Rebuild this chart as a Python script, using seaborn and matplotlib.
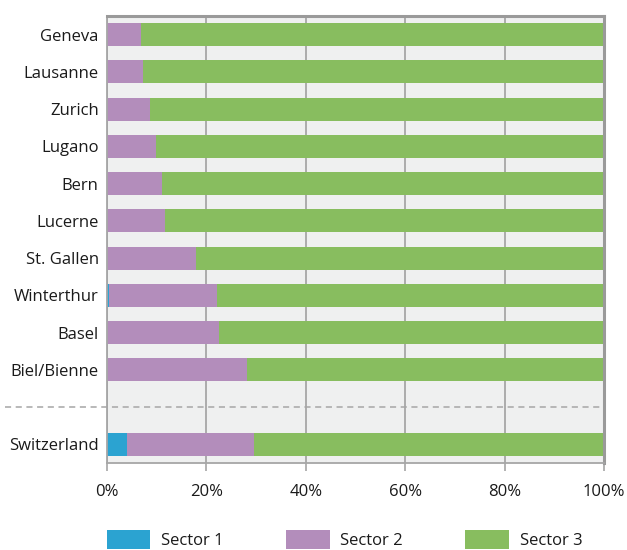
import matplotlib
matplotlib.use("Agg")
import matplotlib.pyplot as plt
import seaborn as sns
import pandas as pd
import numpy as np
from matplotlib.patches import Patch

cities = ["Geneva", "Lausanne", "Zurich", "Lugano", "Bern", "Lucerne",
          "St. Gallen", "Winterthur", "Basel", "Biel/Bienne", "", "Switzerland"]
sector1 = [0.0, 0.0, 0.0, 0.0, 0.0, 0.0, 0.0, 0.5, 0.0, 0.0, np.nan, 4.1]
sector2 = [6.8, 7.2, 8.6, 9.8, 11.0, 11.6, 18.0, 21.7, 22.5, 28.1, np.nan, 25.4]
sector3 = [93.2, 92.8, 91.4, 90.2, 89.0, 88.4, 82.0, 77.8, 77.5, 71.9, np.nan, 70.5]

colors = {"Sector 1": "#2ba3d1", "Sector 2": "#b38dbb", "Sector 3": "#88bd5f"}

sns.set_theme(style="white")
plt.rcParams["font.family"] = ["Open Sans", "DejaVu Sans"]

df = pd.DataFrame({"city": cities, "Sector 1": sector1,
                   "Sector 2": sector2, "Sector 3": sector3})
df["c1"] = df["Sector 1"]
df["c2"] = df["Sector 1"] + df["Sector 2"]
df["c3"] = df["c2"] + df["Sector 3"]
df["pos"] = [str(i) for i in range(len(df))]

fig = plt.figure(figsize=(6.27, 5.5), dpi=100)
ax = fig.add_axes([107 / 627, 1 - 463 / 550, 497 / 627, 447 / 550])
ax.set_facecolor("#eff0f0")

# Draw cumulative totals back to front so each sector shows as its own segment
for col, name in [("c3", "Sector 3"), ("c2", "Sector 2"), ("c1", "Sector 1")]:
    sns.barplot(data=df, x=col, y="pos", color=colors[name], orient="h",
                width=0.62, saturation=1, linewidth=0, ax=ax, zorder=3)

ax.set_xlim(0, 100)
ax.set_ylim(11.5, -0.5)
ax.set_yticks(range(len(cities)))
ax.set_yticklabels(cities, fontsize=12, color="#1a1a1a")
ax.set_xticks([0, 20, 40, 60, 80, 100])
ax.set_xticklabels(["0%", "20%", "40%", "60%", "80%", "100%"],
                   fontsize=12, color="#1a1a1a")
ax.set_xlabel("")
ax.set_ylabel("")
ax.grid(axis="x", color="#a6a6a6", linewidth=1.3, zorder=1)
ax.set_axisbelow(True)
ax.tick_params(axis="x", length=6, width=1.2, color="#a6a6a6", pad=9,
               bottom=True)
ax.tick_params(axis="y", length=0, pad=6)
for side in ["left", "bottom"]:
    ax.spines[side].set_color("#a6a6a6")
    ax.spines[side].set_linewidth(1.3)
for side in ["top", "right"]:
    ax.spines[side].set_color("#9a9a9a")
    ax.spines[side].set_linewidth(2.2)
for sp in ax.spines.values():
    sp.set_zorder(5)

# Dashed separator between the cities and the national total
ax.plot([-20.5, 99.5], [10, 10], linestyle=(0, (4, 3)), color="#a6a6a6",
        linewidth=1.1, clip_on=False, zorder=4)

handles = [Patch(facecolor=colors[k], edgecolor="none") for k in colors]
fig.legend(handles, list(colors.keys()), loc="lower left",
           bbox_to_anchor=(92 / 627, -14 / 550), ncol=3, frameon=False,
           fontsize=12, handlelength=2.6, handleheight=1.3,
           columnspacing=3.75, handletextpad=0.65, labelcolor="#1a1a1a")

fig.savefig("out.png", dpi=100)
